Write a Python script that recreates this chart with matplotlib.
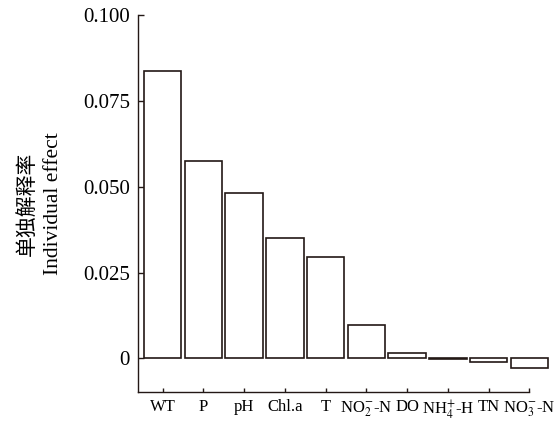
import matplotlib
matplotlib.use("Agg")
import matplotlib.pyplot as plt

# values
factors = ["WT", "P", "pH", "Chl.a", "T", r"NO$_2^{-}$-N", "DO", r"NH$_4^{+}$-H", "TN", r"NO$_3^{-}$-N"]
individual_effect = [0.0839, 0.0576, 0.0481, 0.0351, 0.0296, 0.0098, 0.0016, -0.0001, -0.0012, -0.0029]
y_ticks = [0, 0.025, 0.050, 0.075, 0.100]
y_tick_labels = ["0", "0.025", "0.050", "0.075", "0.100"]

plt.rcParams["font.family"] = ["Liberation Serif", "Noto Sans CJK SC"]
plt.rcParams["mathtext.fontset"] = "stix"

edge = "#231815"

fig = plt.figure(figsize=(5.55, 4.21), dpi=100)
ax = fig.add_axes([0.2492, 0.0689, 0.7045, 0.8943])

x = list(range(len(factors)))
ax.bar(x, individual_effect, width=0.92, color="white", edgecolor=edge,
       linewidth=1.2, clip_on=False, zorder=3)

ax.set_xlim(-0.6, 9.0)
ax.set_ylim(-0.00985, 0.100)
ax.set_yticks(y_ticks)
ax.set_yticklabels(y_tick_labels)
ax.set_xticks(x)
ax.set_xticklabels(factors)

for side in ["top", "right"]:
    ax.spines[side].set_visible(False)
for side in ["left", "bottom"]:
    ax.spines[side].set_linewidth(1.0)
    ax.spines[side].set_color(edge)

ax.tick_params(axis="y", direction="in", length=4, width=1.0, color=edge,
               labelsize=15, pad=6)
ax.tick_params(axis="x", direction="in", length=3, width=1.0, color=edge,
               labelsize=12, pad=5)

# two-line y label, Chinese above English
fig.text(27 / 555, 1 - 204 / 421, "单独解释率", rotation=90, ha="center", va="center",
         fontsize=15, family=["Noto Sans CJK SC", "Liberation Serif"])
fig.text(53 / 555, 1 - 204 / 421, "Individual effect", rotation=90, ha="center", va="center",
         fontsize=15.5)

fig.savefig("out.png", dpi=100)
